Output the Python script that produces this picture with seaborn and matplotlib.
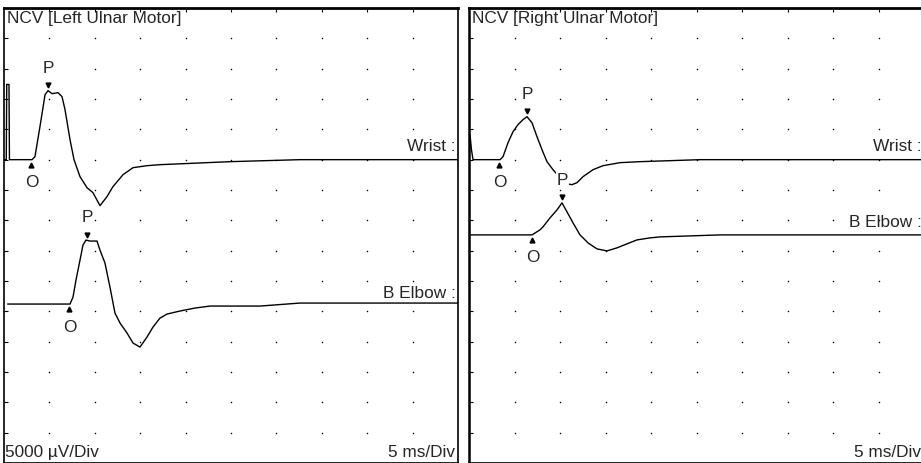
import numpy as np
import pandas as pd
import matplotlib
matplotlib.use("Agg")
import matplotlib.pyplot as plt
import seaborn as sns

# time in ms, amplitude in µV relative to each trace's baseline
left_wrist_t = [0.0, 0.25, 0.3, 0.55, 0.6, 3.08, 3.41, 3.96, 4.52, 4.85, 5.29, 5.95, 6.39, 6.72, 7.27, 7.71,
                8.37, 9.14, 9.80, 10.57, 11.34, 12.00, 13.11, 14.21, 15.75, 17.18, 24.89, 32.6, 50.0]
left_wrist_uv = [0, 0, 12400, 12400, 0, 0, 495, 5440, 10715, 11375, 10880, 11045, 10385, 8240, 3300, 0,
                 -2800, -4615, -5440, -7580, -6100, -4450, -2470, -1320, -990, -825, -330, 0, 0]

left_elbow_t = [0.4, 7.27, 7.60, 7.93, 8.37, 8.70, 9.03, 9.47, 10.24, 10.57, 11.12, 11.67, 12.22, 12.78,
                13.55, 14.21, 14.98, 15.75, 16.41, 17.18, 17.95, 19.38, 21.03, 22.69, 24.34, 28.19, 32.6, 50.0]
left_elbow_uv = [0, 0, 1150, 3960, 7250, 9725, 10550, 10385, 10385, 8900, 6760, 2800, -1480, -3130,
                 -4780, -6430, -7090, -5440, -3790, -2310, -1650, -1150, -660, -330, -330, -330, 165, 165]

right_wrist_t = [0.0, 0.11, 0.27, 0.44, 3.41, 3.74, 4.29, 4.84, 5.38, 5.93, 6.37, 6.92, 7.47, 8.02, 8.57,
                 9.23, 10.0, 10.66, 11.32, 11.87, 12.53, 13.63, 14.73, 16.59, 18.79, 25.4, 50.0]
right_wrist_uv = [0, 4120, 1650, 0, 0, 495, 2800, 4615, 5770, 6590, 7090, 6100, 3790, 1650, -330,
                  -1650, -2970, -3960, -4120, -3790, -2800, -1650, -990, -495, -330, 0, 0]

right_elbow_t = [0.2, 6.92, 7.80, 8.13, 8.90, 9.67, 10.22, 10.77, 11.43, 12.20, 13.08, 14.07, 15.16,
                 16.26, 17.36, 18.46, 19.89, 20.99, 27.6, 50.0]
right_elbow_uv = [0, 0, 825, 1320, 2800, 4120, 5275, 3790, 1980, 0, -1320, -2310, -2640,
                  -2140, -1480, -825, -495, -330, 0, 0]

# baselines of each trace on the screen (µV below the top edge)
left_offsets = {"Wrist": -25000, "B Elbow": -48800}
right_offsets = {"Wrist": -25000, "B Elbow": -37400}

# onset (O) and peak (P) latencies in ms
left_onset = {"Wrist": 2.97, "B Elbow": 7.16}
left_peak = {"Wrist": 4.85, "B Elbow": 9.14}
right_onset = {"Wrist": 3.30, "B Elbow": 6.92}
right_peak = {"Wrist": 6.37, "B Elbow": 10.22}

left_label_y = {"Wrist": 2140, "B Elbow": 1800}
right_label_y = {"Wrist": 2140, "B Elbow": 2100}

left_title = "NCV [Left Ulnar Motor]"
right_title = "NCV [Right Ulnar Motor]"

sns.set_style("white")
plt.rcParams["font.family"] = ["Liberation Sans", "DejaVu Sans"]

FS = 12.4
DIV_X, DIV_Y = 5, 5000
NX, NY = 10, 15

fig = plt.figure(figsize=(9.21, 4.63), dpi=100)
ax_l = fig.add_axes([4 / 921, 0, 454 / 921, 455 / 463])
ax_r = fig.add_axes([469 / 921, 0, 455 / 921, 455 / 463])


def trace_frame(t, uv, offset):
    d = pd.DataFrame({"t": t, "uv": uv})
    d["y"] = d["uv"] + offset
    return d


def draw_panel(ax, traces, offsets, onset, peak, label_y, title, show_uv):
    ax.set_xlim(0, NX * DIV_X)
    ax.set_ylim(-NY * DIV_Y, 0)

    gx, gy = np.meshgrid(np.arange(1, NX) * DIV_X, -np.arange(1, NY) * DIV_Y)
    ax.scatter(gx.ravel(), gy.ravel(), s=1.2, color="black", linewidths=0, zorder=1)

    for name, (t, uv) in traces.items():
        d = trace_frame(t, uv, offsets[name])
        sns.lineplot(data=d, x="t", y="y", ax=ax, color="black", lw=1.0,
                     sort=False, estimator=None, zorder=2,
                     solid_joinstyle="round", solid_capstyle="round")
        base = offsets[name]
        # onset marker
        ax.plot([onset[name]], [base - 800], marker="^", ms=3.5, color="black", zorder=3)
        ax.text(onset[name] + 0.05, base - 3800, "O", fontsize=FS, ha="center", va="center", zorder=4)
        # peak marker
        amp = np.interp(peak[name], t, uv) + base
        ax.plot([peak[name]], [amp + 900], marker="v", ms=3.5, color="black", zorder=3)
        ax.text(peak[name] + 0.05, amp + 3700, "P", fontsize=FS, ha="center", va="center", zorder=4,
                bbox=dict(facecolor="white", edgecolor="none", pad=0.5))
        ax.text(49.7, base + label_y[name], f"{name} :", fontsize=FS, ha="right", va="center")

    ax.text(0.35, -1800, title, fontsize=FS, ha="left", va="center", zorder=5)
    if show_uv:
        ax.text(0.1, -73200, "5000 µV/Div", fontsize=FS, ha="left", va="center")
    ax.text(49.7, -73200, "5 ms/Div", fontsize=FS, ha="right", va="center")

    ax.set_xlabel("")
    ax.set_ylabel("")
    ax.set_xticks(np.arange(1, NX) * DIV_X)
    ax.set_yticks(-np.arange(1, NY) * DIV_Y)
    ax.tick_params(axis="both", direction="in", length=3, width=0.8, colors="black",
                   labelleft=False, labelbottom=False, left=True, top=True, bottom=False)
    for side, sp in ax.spines.items():
        sp.set_visible(True)
        sp.set_color("black")
        sp.set_linewidth(2.0 if side == "top" else 1.2)


draw_panel(ax_l,
           {"Wrist": (left_wrist_t, left_wrist_uv), "B Elbow": (left_elbow_t, left_elbow_uv)},
           left_offsets, left_onset, left_peak, left_label_y, left_title, True)
draw_panel(ax_r,
           {"Wrist": (right_wrist_t, right_wrist_uv), "B Elbow": (right_elbow_t, right_elbow_uv)},
           right_offsets, right_onset, right_peak, right_label_y, right_title, False)
ax_r.spines["left"].set_linewidth(1.8)

fig.savefig("out.png", dpi=100)
